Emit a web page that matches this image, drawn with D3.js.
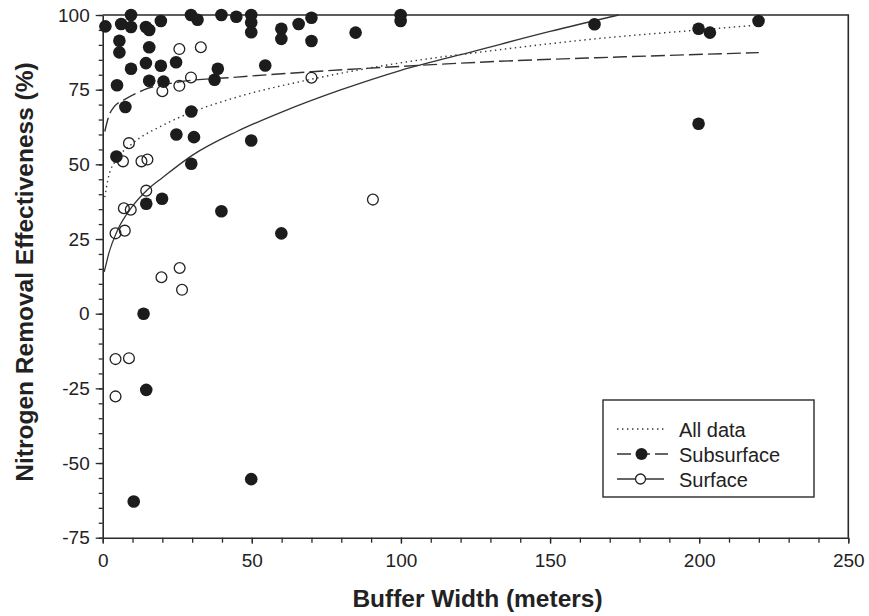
<!DOCTYPE html>
<html>
<head>
<meta charset="utf-8">
<script src="https://cdn.jsdelivr.net/npm/d3@7"></script>
<style>
  body { margin: 0; background: #fff; }
  svg text { font-family: "Liberation Sans", Arial, Helvetica, sans-serif; fill: #222; }
</style>
</head>
<body>
<div id="chart"></div>
<script>
// points: [buffer width (m), removal effectiveness (%)]
var subsurface = [
  [0.9, 96.2], [6.2, 97], [9.5, 100], [9.5, 96], [14.5, 96], [15.6, 95], [19.5, 98],
  [29.6, 100], [31.8, 98.4], [39.8, 100], [44.8, 99.4], [49.8, 100], [49.8, 97.5], [49.8, 94.2],
  [59.9, 95.4], [59.9, 92], [65.7, 97], [70, 99.1], [70, 91.3], [84.8, 94.1], [99.9, 100],
  [99.9, 98], [164.9, 96.9], [199.8, 95.4], [203.6, 94.1], [219.9, 98],
  [5.6, 91.4], [5.6, 87.5], [15.6, 89.2], [9.5, 82], [14.5, 83.9], [19.5, 83], [24.6, 84.2],
  [38.6, 82], [54.5, 83.1], [4.8, 76.5], [15.6, 78], [20.4, 77.7], [37.5, 78.3], [7.6, 69.2],
  [29.7, 67.7], [24.7, 60], [30.6, 59.1], [49.8, 58], [4.6, 52.6], [29.7, 50.2],
  [14.6, 36.8], [19.9, 38.5], [39.8, 34.3], [59.9, 26.9], [13.7, 0], [14.6, -25.5],
  [49.8, -55.4], [10.4, -62.9], [199.8, 63.6]
];

var surface = [
  [25.7, 88.6], [32.9, 89.2], [15.6, 78], [20, 74.5], [25.7, 76.3], [29.6, 79.1], [70, 79],
  [8.8, 57.1], [6.8, 51], [13, 51], [15, 51.6], [14.6, 41.2], [7.1, 35.3], [9.4, 34.8],
  [4.3, 26.9], [7.4, 27.8], [25.8, 15.3], [19.7, 12.2], [26.6, 8], [4.3, -15.2], [8.8, -14.9],
  [4.3, -27.7], [90.6, 38.2]
];

// fitted curves
var allFit = [
  [0.7, 39], [2, 46], [5, 52], [10, 57], [20, 63], [30, 67.5], [45, 72.5], [70, 78.5],
  [100, 84], [130, 88], [165, 92], [200, 95], [218, 96.5]
];
var subsurfaceFit = [
  [0.7, 61], [2, 66], [4, 69.5], [7, 71.5], [14, 75], [25, 77.5], [45, 79.2], [70, 81],
  [100, 82.8], [133, 84.5], [175, 86], [220, 87.4]
];
var surfaceFit = [
  [0.5, 14], [1, 16], [2, 20], [5, 28], [10, 36], [15, 41.5], [20, 45.5], [30, 53], [45, 61],
  [60, 67.5], [80, 75], [100, 81.5], [125, 88], [150, 94.5], [173, 100]
];

var xTicks = [0, 50, 100, 150, 200, 250];
var yTicks = [100, 75, 50, 25, 0, -25, -50, -75];
var legendLabels = ["All data", "Subsurface", "Surface"];

var svgWidth = 869;
var svgHeight = 616;
var margin = { top: 15, right: 20.7, bottom: 78.3, left: 102.7 };
var width = svgWidth - margin.left - margin.right;
var height = svgHeight - margin.top - margin.bottom;
var ink = "#2a2a2a";

var svg = d3.select("#chart")
  .append("svg")
  .attr("width", svgWidth)
  .attr("height", svgHeight);

var g = svg.append("g")
  .attr("transform", "translate(" + margin.left + "," + margin.top + ")");

var x = d3.scaleLinear().domain([0, 250]).range([0, width]);
var y = d3.scaleLinear().domain([-75, 100]).range([height, 0]);

// minor ticks first, then the labelled ones
g.append("g")
  .attr("transform", "translate(0," + height + ")")
  .call(d3.axisBottom(x).tickValues(d3.range(0, 251, 10)).tickSize(5).tickFormat(""))
  .call(function(a) { a.select(".domain").remove(); });
g.append("g")
  .call(d3.axisLeft(y).tickValues(d3.range(-75, 101, 5)).tickSize(4).tickFormat(""))
  .call(function(a) { a.select(".domain").remove(); });

// plain hyphen for negatives, like the original
var plain = function(d) { return String(d); };

var xAxis = g.append("g")
  .attr("transform", "translate(0," + height + ")")
  .call(d3.axisBottom(x).tickValues(xTicks).tickFormat(plain).tickSize(6).tickSizeOuter(0).tickPadding(10));
var yAxis = g.append("g")
  .call(d3.axisLeft(y).tickValues(yTicks).tickFormat(plain).tickSize(7).tickSizeOuter(0).tickPadding(6));

[xAxis, yAxis].forEach(function(a) {
  a.selectAll("text").style("font-size", "19px").attr("fill", "#222");
});
g.selectAll(".tick line").attr("stroke", ink).attr("stroke-width", 1.3);
g.selectAll(".domain").attr("stroke", ink).attr("stroke-width", 1.6);

// top and right frame
g.append("path")
  .attr("d", "M0,0H" + width + "V" + height)
  .attr("fill", "none")
  .attr("stroke", ink)
  .attr("stroke-width", 1.6);

var line = d3.line()
  .x(function(d) { return x(d[0]); })
  .y(function(d) { return y(d[1]); })
  .curve(d3.curveMonotoneX);

g.append("path").datum(allFit)
  .attr("d", line).attr("fill", "none").attr("stroke", "#333")
  .attr("stroke-width", 1.4).attr("stroke-dasharray", "1.4,3.6");
g.append("path").datum(subsurfaceFit)
  .attr("d", line).attr("fill", "none").attr("stroke", "#333")
  .attr("stroke-width", 1.4).attr("stroke-dasharray", "14,5");
g.append("path").datum(surfaceFit)
  .attr("d", line).attr("fill", "none").attr("stroke", "#333")
  .attr("stroke-width", 1.3);

g.selectAll("circle.sub")
  .data(subsurface)
  .enter()
  .append("circle")
  .attr("class", "sub")
  .attr("cx", d => x(d[0]))
  .attr("cy", d => y(d[1]))
  .attr("r", 6.3)
  .attr("fill", "#1c1c1c");

g.selectAll("circle.surf")
  .data(surface)
  .enter()
  .append("circle")
  .attr("class", "surf")
  .attr("cx", d => x(d[0]))
  .attr("cy", d => y(d[1]))
  .attr("r", 5.4)
  .attr("fill", "none")
  .attr("stroke", "#222")
  .attr("stroke-width", 1.3);

// legend
var legend = svg.append("g").attr("transform", "translate(603,400)");
legend.append("rect")
  .attr("width", 211).attr("height", 97)
  .attr("fill", "#fff").attr("stroke", ink).attr("stroke-width", 1.4);

var styles = ["1.4,3.6", "14,5", null];
legendLabels.forEach(function(label, i) {
  var ly = 29 + i * 25;
  var item = legend.append("g").attr("transform", "translate(0," + ly + ")");
  item.append("line")
    .attr("x1", 14).attr("x2", i == 1 ? 65 : 61)
    .attr("stroke", "#333").attr("stroke-width", 1.4)
    .attr("stroke-dasharray", styles[i]);
  if (i == 1) {
    item.append("circle").attr("cx", 38.5).attr("r", 6).attr("fill", "#1c1c1c");
  }
  if (i == 2) {
    item.append("circle").attr("cx", 37.5).attr("r", 5)
      .attr("fill", "#fff").attr("stroke", "#222").attr("stroke-width", 1.3);
  }
  item.append("text")
    .attr("x", 76).attr("y", 7.5)
    .style("font-size", "20px")
    .text(label);
});

// axis titles
svg.append("text")
  .attr("x", margin.left + width / 2 + 2)
  .attr("y", 606.5)
  .attr("text-anchor", "middle")
  .style("font-size", "24.5px")
  .style("font-weight", "bold")
  .text("Buffer Width (meters)");

svg.append("text")
  .attr("transform", "translate(33,272) rotate(-90)")
  .attr("text-anchor", "middle")
  .style("font-size", "24.5px")
  .style("font-weight", "bold")
  .text("Nitrogen Removal Effectiveness (%)");
</script>
</body>
</html>
